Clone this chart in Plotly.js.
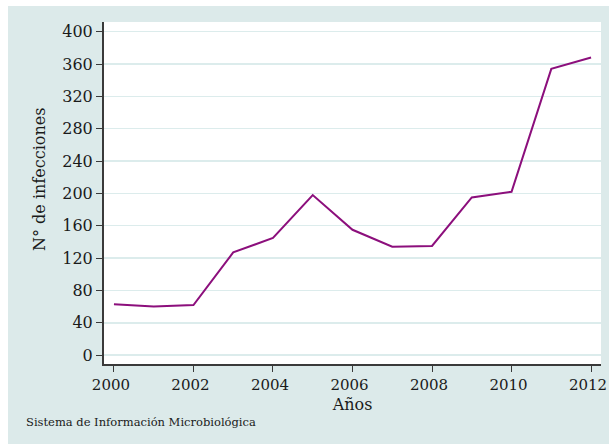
<!DOCTYPE html>
<html>
<head>
<meta charset="utf-8">
<script src="https://cdn.plot.ly/plotly-3.0.1.min.js"></script>
<style>
html,body{margin:0;padding:0;background:#ffffff;}
#bg{position:absolute;left:8px;top:6px;width:601px;height:438px;background:#dceaea;}
#chart{position:absolute;left:0;top:0;width:609px;height:444px;}
</style>
</head>
<body>
<div id="bg"></div>
<div id="chart"></div>
<script>
var years = [2000,2001,2002,2003,2004,2005,2006,2007,2008,2009,2010,2011,2012];
var infecciones = [63,60,62,127,145,198,155,134,135,195,202,354,368];
var yTicks = [0,40,80,120,160,200,240,280,320,360,400];
var xTicks = [2000,2002,2004,2006,2008,2010,2012];

var serif = "DejaVu Serif, Liberation Serif, serif";
var trace = {
  x: years, y: infecciones, type: 'scatter', mode: 'lines',
  line: {color: '#8c0f7c', width: 2}, hoverinfo: 'skip'
};
var layout = {
  width: 609, height: 444,
  margin: {l: 104, r: 8, t: 22, b: 80},
  paper_bgcolor: 'rgba(0,0,0,0)',
  plot_bgcolor: '#ffffff',
  showlegend: false,
  font: {family: serif, color: '#1a1a1a', size: 16},
  xaxis: {
    range: [1999.75, 2012.25], tickvals: xTicks, ticktext: xTicks.map(String),
    showgrid: false, zeroline: false, showline: true, linecolor: '#3a3a3a', linewidth: 2,
    ticks: 'outside', ticklen: 6, tickcolor: '#3a3a3a', tickwidth: 1,
    tickfont: {family: serif, size: 15}, ticklabeloverflow: 'allow', ticklabelshift: -3,
    title: {text: 'Años', font: {family: serif, size: 16}, standoff: 6}
  },
  yaxis: {
    range: [-11, 412], tickvals: yTicks, ticktext: yTicks.map(String),
    showgrid: true, gridcolor: '#dcecec', gridwidth: 1.5, zeroline: false,
    showline: true, linecolor: '#3a3a3a', linewidth: 2,
    ticks: 'outside', ticklen: 6, tickcolor: '#3a3a3a', tickwidth: 1,
    tickfont: {family: serif, size: 16}
  },
  annotations: [{
    text: 'N° de infecciones', xref: 'paper', yref: 'paper',
    x: -0.1288, y: 0.541, xanchor: 'center', yanchor: 'middle', textangle: -90,
    showarrow: false, font: {family: serif, size: 16, color: '#1a1a1a'}
  }, {
    text: 'Sistema de Información Microbiológica', xref: 'paper', yref: 'paper',
    x: -0.161, y: -0.143, xanchor: 'left', yanchor: 'top', showarrow: false,
    font: {family: serif, size: 11.5, color: '#1a1a1a'}
  }]
};
Plotly.newPlot('chart', [trace], layout, {displayModeBar: false, staticPlot: true});
</script>
</body>
</html>
